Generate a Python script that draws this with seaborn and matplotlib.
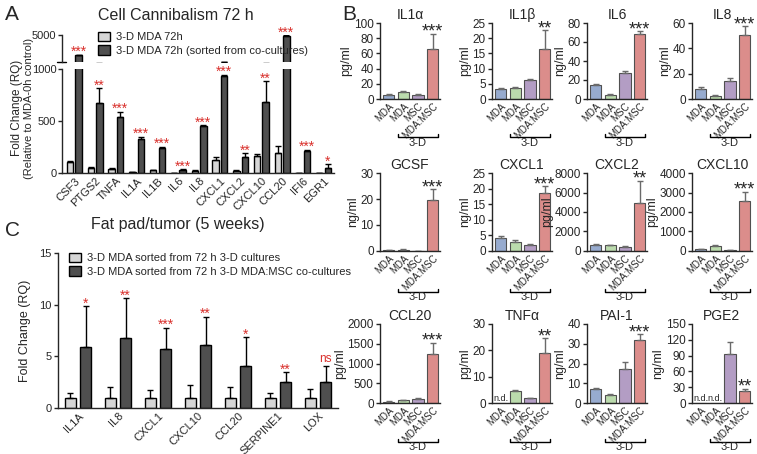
import matplotlib
matplotlib.use("Agg")
import matplotlib.pyplot as plt
import numpy as np
import pandas as pd
import seaborn as sns
from matplotlib.patches import Patch
from matplotlib.transforms import blended_transform_factory

W, H = 757, 454
LIGHT, DARK, RED = "#d6d6d6", "#4f4f4f", "#d9302c"

# ---- panel A: cell cannibalism 72 h (fold change)
A_GENES = ["CSF3", "PTGS2", "TNFA", "IL1A", "IL1B", "IL6", "IL8",
           "CXCL1", "CXCL2", "CXCL10", "CCL20", "IFI6", "EGR1"]
A_CTRL = [110, 45, 40, 5, 25, 2, 20, 125, 15, 166, 190, 3, 2]
A_CTRL_ERR = [10, 8, 8, 2, 5, 1, 5, 32, 10, 14, 72, 1, 1]
A_COCULT = [2050, 670, 535, 325, 237, 30, 450, 935, 150, 685, 4850, 215, 50]
A_COCULT_ERR = [60, 145, 55, 25, 13, 4, 10, 10, 40, 195, 80, 10, 35]
A_STARS = ["***", "**", "***", "***", "***", "***", "***", "***", "**", "**",
           "***", "***", "*"]

# ---- panel C: fat pad / tumor (5 weeks)
C_GENES = ["IL1A", "IL8", "CXCL1", "CXCL10", "CCL20", "SERPINE1", "LOX"]
C_CTRL = [1, 1, 1, 1, 1, 1, 1]
C_CTRL_ERR = [0.5, 1.0, 0.7, 1.2, 1.05, 0.5, 0.85]
C_COCULT = [5.9, 6.8, 5.7, 6.1, 4.05, 2.5, 2.5]
C_COCULT_ERR = [3.95, 3.8, 2.05, 2.75, 2.8, 0.95, 1.55]
C_STARS = ["*", "**", "***", "**", "*", "**", "ns"]

# ---- panel B: secreted factors
B_KEYS = ["MDA 2-D", "MDA 3-D", "MSC 3-D", "MDA:MSC 3-D"]
B_LABELS = ["MDA", "MDA", "MSC", "MDA:MSC"]
B_COLORS = ["#8ea8d8", "#b8e2a6", "#b496cb", "#e8807e"]
B_TITLES = ["IL1α", "IL1β", "IL6", "IL8", "GCSF", "CXCL1", "CXCL2", "CXCL10",
            "CCL20", "TNFα", "PAI-1", "PGE2"]
B_UNITS = ["pg/ml", "pg/ml", "ng/ml", "ng/ml", "ng/ml", "ng/ml", "pg/ml",
           "pg/ml", "pg/ml", "pg/ml", "ng/ml", "ng/ml"]
nan = np.nan
B_MEANS = [
    [5.5, 9.5, 5.6, 66],
    [3.3, 3.6, 6.1, 16.4],
    [15, 4.5, 27.8, 68.9],
    [8.1, 2.6, 14.3, 50.4],
    [0.2, 0.4, 0.1, 19.7],
    [4.1, 3.0, 1.9, 18.6],
    [650, 600, 440, 4900],
    [100, 250, 30, 2575],
    [35, 70, 100, 1240],
    [nan, 4.5, 1.8, 18.9],
    [7.1, 4.3, 17.0, 32],
    [nan, nan, 92.6, 23],
]
B_ERRS = [
    [0.8, 0.6, 0.5, 20],
    [0.3, 0.2, 0.5, 6.2],
    [1.0, 0.3, 2.1, 2.4],
    [1.3, 0.9, 2.1, 7.0],
    [0.1, 0.2, 0.05, 4.1],
    [0.7, 0.5, 0.2, 2.1],
    [60, 40, 40, 2300],
    [20, 40, 10, 475],
    [8, 10, 20, 290],
    [nan, 0.5, 0.2, 5.7],
    [0.3, 0.3, 3.6, 2.9],
    [nan, nan, 24, 4.5],
]
B_YMAX = [100, 25, 80, 60, 30, 25, 8000, 4000, 2000, 30, 40, 150]
B_YSTEP = [20, 5, 20, 20, 10, 5, 2000, 1000, 500, 10, 10, 30]
B_STARS = ["***", "**", "***", "***", "***", "***", "**", "***", "***", "**",
           "***", "**"]

sns.set_style("ticks")
NARROW = ["Liberation Sans Narrow", "Liberation Sans", "DejaVu Sans"]
plt.rcParams["font.family"] = NARROW
plt.rcParams["axes.linewidth"] = 1.0
plt.rcParams["xtick.major.width"] = 1.0
plt.rcParams["ytick.major.width"] = 1.0
plt.rcParams["ytick.major.size"] = 3

fig = plt.figure(figsize=(W / 100, H / 100), dpi=100)


def add_ax(l, t, r, b):
    return fig.add_axes([l / W, 1 - b / H, (r - l) / W, (b - t) / H])


def grouped(ax, genes, ctrl, cocult, ctrl_err, cocult_err, width, gap):
    df = pd.DataFrame({
        "gene": genes * 2,
        "value": ctrl + cocult,
        "group": ["ctrl"] * len(genes) + ["cocult"] * len(genes),
    })
    sns.barplot(df, x="gene", y="value", hue="group", order=genes,
                hue_order=["ctrl", "cocult"], palette=[LIGHT, DARK],
                width=width, gap=gap, edgecolor="black", linewidth=1,
                errorbar=None, legend=False, ax=ax)
    tops = []
    for cont, errs in zip(ax.containers, [ctrl_err, cocult_err]):
        xs = [p.get_x() + p.get_width() / 2 for p in cont]
        hs = [p.get_height() for p in cont]
        ax.errorbar(xs, hs, yerr=[np.zeros(len(errs)), errs], fmt="none",
                    ecolor="black", elinewidth=1, capsize=2, capthick=1)
        tops.append([(x, h + e) for x, h, e in zip(xs, hs, errs)])
    return tops


# ================= Panel A =================
ax_lo = add_ax(62, 69, 334, 173)
ax_up = add_ax(62, 35, 334, 62)
tops = grouped(ax_lo, A_GENES, A_CTRL, A_COCULT, A_CTRL_ERR, A_COCULT_ERR, 0.82, 0.24)
grouped(ax_up, A_GENES, A_CTRL, A_COCULT, A_CTRL_ERR, A_COCULT_ERR, 0.82, 0.24)
for a in (ax_lo, ax_up):
    a.set_xlim(-0.6, 12.5)
    a.set_xlabel("")
    a.set_ylabel("")
    sns.despine(ax=a)
ax_lo.set_ylim(0, 1000)
ax_lo.set_yticks([0, 500, 1000])
ax_lo.tick_params(axis="y", labelsize=8, length=3, pad=1)
ax_lo.set_xticks(range(len(A_GENES)))
ax_lo.set_xticklabels(A_GENES, rotation=45, ha="right", rotation_mode="anchor", fontsize=8)
ax_lo.tick_params(axis="x", length=0, pad=2)
ax_up.set_ylim(1000, 5000)
ax_up.set_yticks([5000])
ax_up.tick_params(axis="y", labelsize=8, length=3, pad=1)
ax_up.set_xticks([])
ax_up.spines["bottom"].set_visible(False)
ax_up.plot([-0.02, 0.015], [0, 0], transform=ax_up.transAxes, color="black", lw=1, clip_on=False)
for (x, top), star in zip(tops[1], A_STARS):
    target = ax_up if top > 1000 else ax_lo
    target.annotate(star, (x, top), xytext=(0, -3), textcoords="offset points",
                    ha="center", va="bottom", color=RED, fontsize=10, annotation_clip=False)
fig.text(17.5 / W, 1 - 108 / H, "Fold Change (RQ)", rotation=90, ha="center", va="center", fontsize=8.5)
fig.text(28.5 / W, 1 - 108 / H, "(Relative to MDA-0h control)", rotation=90, ha="center", va="center", fontsize=8)
fig.text(176 / W, 1 - 15 / H, "Cell Cannibalism 72 h", ha="center", va="center", fontsize=11.5)
fig.legend(handles=[Patch(facecolor=LIGHT, edgecolor="black", label="3-D MDA 72h"),
                    Patch(facecolor=DARK, edgecolor="black", label="3-D MDA 72h (sorted from co-cultures)")],
           loc="upper left", bbox_to_anchor=(92 / W, 1 - 26 / H), frameon=False, fontsize=8,
           handlelength=1.1, handleheight=0.9, handletextpad=0.6, labelspacing=0.3, borderpad=0)

# ================= Panel C =================
ax_c = add_ax(58, 253, 338, 408)
tops_c = grouped(ax_c, C_GENES, C_CTRL, C_COCULT, C_CTRL_ERR, C_COCULT_ERR, 0.76, 0.29)
ax_c.set_xlim(-0.5, 6.5)
ax_c.set_ylim(0, 15)
ax_c.set_yticks([0, 5, 10, 15])
ax_c.tick_params(axis="y", labelsize=8, length=3, pad=1.5)
ax_c.set_xticks(range(len(C_GENES)))
ax_c.set_xticklabels(C_GENES, rotation=45, ha="right", rotation_mode="anchor", fontsize=8)
ax_c.tick_params(axis="x", length=0, pad=2)
ax_c.set_xlabel("")
ax_c.set_ylabel("Fold Change (RQ)", fontsize=9, labelpad=6)
sns.despine(ax=ax_c)
for (x, top), star in zip(tops_c[1], C_STARS):
    ns = star == "ns"
    ax_c.annotate(star, (x, top), xytext=(0, 1 if ns else -3), textcoords="offset points",
                  ha="center", va="bottom", color=RED, fontsize=8.5 if ns else 10)
fig.text(178 / W, 1 - 224 / H, "Fat pad/tumor (5 weeks)", ha="center", va="center", fontsize=11.5)
fig.legend(handles=[Patch(facecolor=LIGHT, edgecolor="black", label="3-D MDA sorted from 72 h 3-D cultures"),
                    Patch(facecolor=DARK, edgecolor="black", label="3-D MDA sorted from 72 h 3-D MDA:MSC co-cultures")],
           loc="upper left", bbox_to_anchor=(63 / W, 1 - 247 / H), frameon=False, fontsize=8,
           handlelength=1.1, handleheight=0.9, handletextpad=0.6, labelspacing=0.3, borderpad=0)

# ================= Panel B =================
B_LEFT = [380, 492, 587, 692]
B_TOP = [23, 173, 324]
B_BOT = [99, 251, 403]
B_BRACKET = [38, 41, 39]
B_W = 60
for k in range(12):
    r, c = divmod(k, 4)
    ax = add_ax(B_LEFT[c], B_TOP[r], B_LEFT[c] + B_W, B_BOT[r])
    means = np.array(B_MEANS[k], dtype=float)
    errs = np.array(B_ERRS[k], dtype=float)
    df = pd.DataFrame({"cond": B_KEYS, "value": np.nan_to_num(means)})
    sns.barplot(df, x="cond", y="value", hue="cond", order=B_KEYS, hue_order=B_KEYS,
                palette=B_COLORS, width=0.76, edgecolor="#505050", linewidth=0.8,
                errorbar=None, legend=False, ax=ax)
    bars = sorted(ax.patches, key=lambda p: p.get_x())
    xs = np.array([p.get_x() + p.get_width() / 2 for p in bars])
    ok = ~np.isnan(means)
    ax.errorbar(xs[ok], means[ok], yerr=[np.zeros(ok.sum()), errs[ok]], fmt="none",
                ecolor="#6a6a6a", elinewidth=1, capsize=2.5, capthick=1)
    for x, m in zip(xs, means):
        if np.isnan(m):
            ax.text(x, 0, "n.d.", ha="center", va="bottom", fontsize=6.5)
    ax.annotate(B_STARS[k], (xs[3], means[3] + errs[3]), xytext=(0, -5), textcoords="offset points",
                ha="center", va="bottom", fontsize=13, family="Liberation Sans",
                annotation_clip=False)
    ax.set_xlim(-0.6, 3.5)
    ax.set_ylim(0, B_YMAX[k])
    ax.set_yticks(np.arange(0, B_YMAX[k] + B_YSTEP[k] / 2, B_YSTEP[k]))
    ax.tick_params(axis="y", labelsize=8.5, length=3, pad=1.5)
    ax.set_xticks(range(4))
    ax.set_xticklabels(B_LABELS, rotation=45, ha="right", rotation_mode="anchor", fontsize=7)
    ax.tick_params(axis="x", length=0, pad=1.5)
    ax.set_xlabel("")
    ax.set_ylabel(B_UNITS[k], fontsize=9, labelpad=1)
    ax.set_title(B_TITLES[k], fontsize=10, pad=3)
    sns.despine(ax=ax)
    tr = blended_transform_factory(ax.transData, ax.transAxes)
    hpx = B_BOT[r] - B_TOP[r]
    yb = -B_BRACKET[r] / hpx
    ax.plot([0.62, 0.62, 3.38, 3.38], [yb + 3 / hpx, yb, yb, yb + 3 / hpx], transform=tr,
            color="black", lw=1, clip_on=False)
    ax.text(2.0, yb - 0.5 / hpx, "3-D", transform=tr, ha="center", va="top", fontsize=8)

fig.text(5 / W, 1 - 15 / H, "A", fontsize=15, va="center", family="Liberation Sans")
fig.text(342 / W, 1 - 15 / H, "B", fontsize=15, va="center", family="Liberation Sans")
fig.text(5 / W, 1 - 230 / H, "C", fontsize=15, va="center", family="Liberation Sans")

fig.savefig("out.png", dpi=100)
